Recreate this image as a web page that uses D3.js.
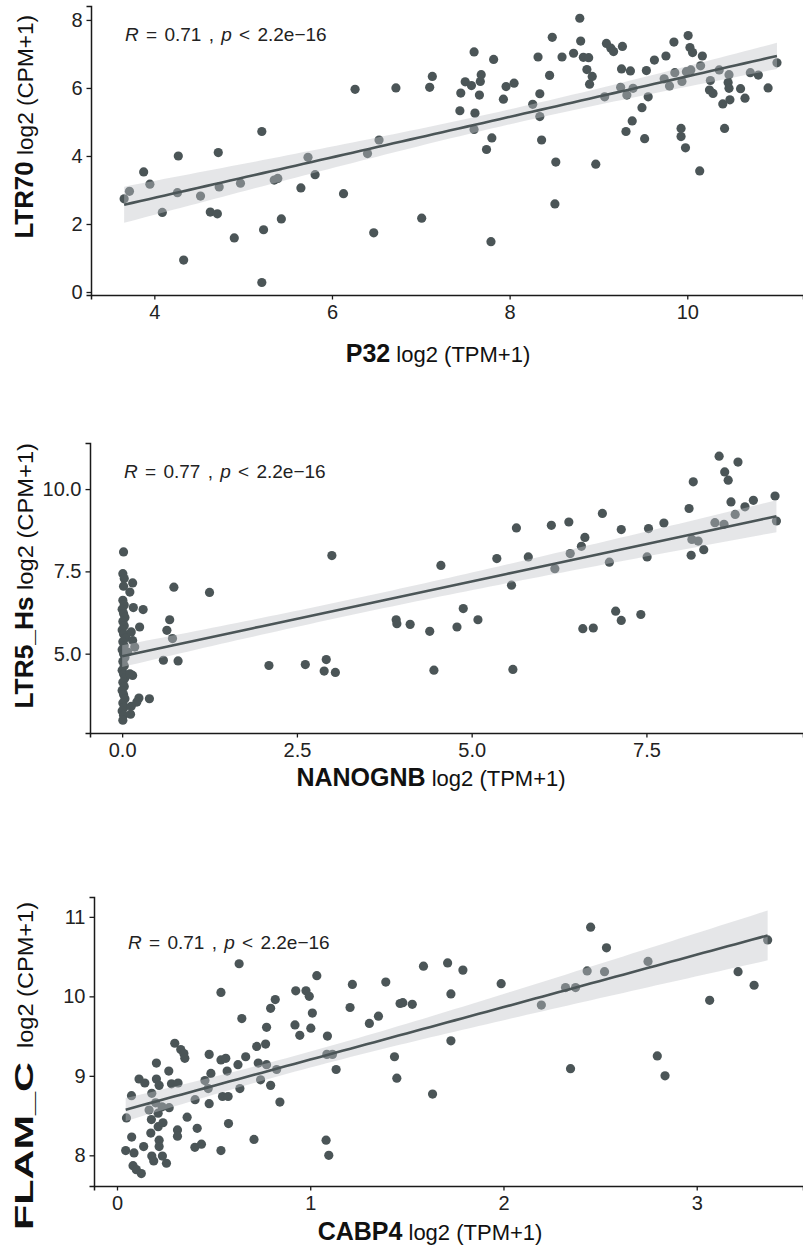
<!DOCTYPE html>
<html>
<head>
<meta charset="utf-8">
<script src="https://cdn.jsdelivr.net/npm/d3@7"></script>
<style>
  html, body { margin: 0; padding: 0; background: #fff; }
  svg { display: block; font-family: "Liberation Sans", Arial, Helvetica, sans-serif; }
</style>
</head>
<body>
<svg id="chart" width="803" height="1249"></svg>
<script>
// ---- Panel 1: P32 expression vs LTR70 expression ----
const p32Expr = [3.66,3.72,3.88,3.95,4.09,4.27,4.26,4.33,4.52,4.63,4.71,4.72,4.73,4.90,4.97,5.21,5.21,5.23,5.35,5.39,5.43,5.65,5.73,5.81,6.13,6.26,6.40,6.47,6.53,6.72,
  7.01,7.10,7.13,7.45,7.44,7.50,7.57,7.60,7.61,7.60,7.67,7.68,7.66,7.74,7.79,7.80,7.82,7.93,7.96,8.05,8.26,8.32,8.34,8.34,8.36,8.45,8.48,8.51,8.52,8.59,
  8.72,8.79,8.80,8.83,8.89,8.87,8.93,8.90,8.97,9.07,9.09,9.14,9.17,9.27,9.26,9.36,9.25,9.32,9.39,9.38,9.31,9.49,9.56,9.52,9.54,9.63,9.76,9.85,9.74,9.80,
  9.86,9.94,9.93,9.93,9.98,10.01,10.03,10.06,9.99,10.04,10.17,10.15,10.14,10.26,10.25,10.29,10.36,10.47,10.46,10.47,10.40,10.48,10.42,10.60,10.65,10.71,10.80,10.91,11.01];
const ltr70Expr = [2.74,2.96,3.53,3.17,2.34,4.00,2.92,0.94,2.82,2.35,2.30,4.10,3.09,1.59,3.20,4.72,0.28,1.83,3.29,3.34,2.15,3.06,3.96,3.45,2.89,5.96,4.07,1.74,4.47,6.00,
  2.17,6.02,6.34,5.85,5.33,6.18,6.07,7.06,5.26,4.78,6.19,6.39,5.79,4.19,1.48,4.53,6.84,5.67,6.04,6.14,5.52,6.91,5.83,5.16,4.47,6.37,7.49,2.59,3.82,6.91,
  7.02,8.05,7.38,6.90,6.89,6.54,6.34,6.11,3.76,5.74,7.31,7.17,7.07,7.22,6.56,6.50,6.02,5.79,5.99,5.03,4.72,5.42,5.74,4.51,6.51,6.82,6.94,7.35,6.27,6.06,
  6.45,6.19,4.81,4.57,4.24,7.54,7.19,7.04,6.48,6.53,6.94,6.65,3.56,6.22,5.94,5.84,6.53,6.39,6.16,5.99,5.53,5.65,4.81,5.98,5.70,6.45,6.38,6.00,6.74];

// ---- Panel 2: NANOGNB expression vs LTR5_Hs expression ----
const nanognbExpr = [0.02,0.01,0.03,0.02,0.01,0.03,0.00,0.02,0.04,0.01,0.03,0.00,0.02,0.05,0.01,0.03,0.00,0.02,0.04,0.01,0.03,0.00,0.02,0.04,0.01,0.03,0.00,0.02,0.04,0.01,0.03,0.00,0.02,0.01,
  0.15,0.11,0.16,0.30,0.25,0.13,0.15,0.18,0.15,0.11,0.24,0.39,0.21,0.12,0.13,0.08,
  0.74,1.25,0.68,0.64,0.72,0.59,0.80,2.10,2.62,2.92,2.89,3.05,3.00,3.92,3.93,4.12,4.40,4.46,4.56,4.79,4.88,5.09,5.36,5.57,5.59,5.64,5.81,6.14,6.19,6.39,
  6.41,6.57,6.62,6.59,6.74,6.87,6.97,7.06,7.14,7.14,7.42,7.53,7.51,7.75,8.11,8.17,8.14,8.15,8.24,8.32,8.48,8.61,8.54,8.62,8.67,8.81,8.71,8.77,8.91,9.03,9.34,9.36];
const ltr5Expr = [8.09,7.43,7.28,7.05,6.62,6.48,6.35,6.22,6.10,5.98,5.85,5.72,5.60,5.48,5.36,5.24,5.12,5.00,4.88,4.76,4.63,4.50,4.38,4.26,4.13,4.00,3.88,3.76,3.63,3.50,3.38,3.26,3.13,2.98,
  7.15,6.87,6.40,6.34,5.81,5.66,5.40,5.20,4.34,4.39,3.65,3.63,3.53,3.16,3.40,5.05,
  7.02,6.86,6.03,5.71,5.46,4.80,4.78,4.64,4.67,4.82,4.47,4.43,7.98,6.03,5.91,5.89,5.68,4.50,7.68,5.81,6.37,6.03,7.89,7.08,4.52,8.82,7.94,8.90,7.58,9.00,
  8.04,8.26,8.53,5.76,5.78,9.26,7.78,6.29,6.01,8.77,6.19,8.80,7.94,8.97,9.41,10.22,7.99,8.47,8.42,8.16,8.98,8.93,11.00,10.52,10.27,10.82,9.61,9.23,9.46,9.66,9.79,9.03];

// ---- Panel 3: CABP4 expression vs FLAM_C expression ----
const cabp4Expr = [0.049,0.045,0.075,0.076,0.088,0.083,0.100,0.126,0.114,0.144,0.138,0.180,0.166,0.178,0.175,0.180,0.190,0.204,0.204,0.218,0.200,0.213,0.213,0.218,0.218,0.235,0.256,0.238,0.233,0.270,
  0.268,0.282,0.316,0.299,0.330,0.346,0.351,0.313,0.313,0.363,0.404,0.415,0.403,0.437,0.477,0.455,0.486,0.472,0.477,0.538,0.538,0.563,0.546,0.575,0.570,0.577,0.538,0.632,0.646,0.626,
  0.636,0.666,0.709,0.723,0.769,0.731,0.743,0.774,0.795,0.819,0.774,0.795,0.826,0.843,0.925,0.921,0.946,0.978,0.995,1.011,1.003,1.034,1.089,1.086,1.115,1.134,1.082,1.096,1.206,1.218,
  1.306,1.353,1.391,1.436,1.448,1.465,1.479,1.528,1.586,1.728,1.711,1.790,1.728,1.633,1.988,2.196,2.321,2.373,2.347,2.433,2.451,2.523,2.533,2.748,2.796,2.836,3.067,3.214,3.297,3.367];
const flamcExpr = [8.47,8.06,8.75,8.23,8.03,7.87,7.82,7.77,8.96,8.91,8.11,8.78,8.57,8.45,8.28,7.99,7.93,9.16,8.96,8.88,8.66,8.53,8.36,8.19,8.11,7.99,7.90,8.41,8.61,8.60,
  9.06,8.90,8.91,9.41,9.33,9.28,9.22,8.32,8.24,8.48,8.70,8.34,8.10,8.14,9.27,8.94,9.03,8.84,8.65,10.05,9.20,9.22,8.74,8.74,9.06,8.40,8.06,10.41,9.72,9.14,
  8.84,9.24,8.20,9.37,9.40,9.16,8.95,9.61,9.85,9.96,9.14,8.88,9.08,8.67,10.07,9.64,9.51,10.07,10.00,9.79,9.60,10.26,9.50,9.27,9.27,9.08,8.19,8.00,9.86,10.15,
  9.66,9.75,10.18,9.24,8.97,9.91,9.92,9.90,10.38,10.03,10.42,10.33,9.44,8.77,10.16,9.89,10.11,10.11,9.09,10.32,10.87,10.31,10.61,10.44,9.25,9.00,9.95,10.31,10.14,10.71];

// tick values and correlation labels
const p1XTicks = [4, 6, 8, 10], p1YTicks = [0, 2, 4, 6, 8];
const p2XTicks = [0, 2.5, 5, 7.5], p2YTicks = [5, 7.5, 10];
const p3XTicks = [0, 1, 2, 3], p3YTicks = [8, 9, 10, 11];
const corrR = ["0.71", "0.77", "0.71"];
const corrP = "2.2e\u221216";

// yName: [baseline x, centre y of gene name, its length]; yUnit: [centre y, length]
const panels = [
  { x: p32Expr, y: ltr70Expr, xTicks: p1XTicks, yTicks: p1YTicks, fmt: d3.format("d"),
    xDom: [3.287, 11.303], yDom: [-0.088, 8.41], left: 91, right: 803, top: 6, bottom: 295,
    xGene: "P32", yGene: "LTR70", r: corrR[0],
    ann: [125, 41], xTitle: [438, 362], yName: [33, 200, 77], yUnit: [85, 140] },
  { x: nanognbExpr, y: ltr5Expr, xTicks: p2XTicks, yTicks: p2YTicks, fmt: d3.format(".1f"),
    xDom: [-0.46, 9.74], yDom: [2.59, 11.4], left: 90, right: 803, top: 443, bottom: 733,
    xGene: "NANOGNB", yGene: "LTR5_Hs", r: corrR[1],
    ann: [124, 478], xTitle: [431, 786], yName: [33, 652.5, 112], yUnit: [516.5, 147] },
  { x: cabp4Expr, y: flamcExpr, xTicks: p3XTicks, yTicks: p3YTicks, fmt: d3.format("d"),
    xDom: [-0.119, 3.55], yDom: [7.614, 11.25], left: 94, right: 803, top: 897, bottom: 1186,
    xGene: "CABP4", yGene: "FLAM_C", r: corrR[2],
    ann: [128, 949], xTitle: [430, 1240], yName: [33, 1146, 168], yUnit: [975, 146] }
];

const svg = d3.select("#chart");
const pointColor = "#4b5557";

// ordinary least squares with a 95% confidence band, as geom_smooth(method = "lm")
function linearFit(xs, ys) {
  const n = xs.length;
  const mx = d3.mean(xs), my = d3.mean(ys);
  let sxx = 0, sxy = 0;
  for (let i = 0; i < n; i++) { sxx += (xs[i] - mx) ** 2; sxy += (xs[i] - mx) * (ys[i] - my); }
  const b = sxy / sxx, a = my - b * mx;
  let sse = 0;
  for (let i = 0; i < n; i++) sse += (ys[i] - a - b * xs[i]) ** 2;
  const s = Math.sqrt(sse / (n - 2));
  const t = 1.98;
  const [lo, hi] = d3.extent(xs);
  return d3.range(81).map(k => {
    const xv = lo + (hi - lo) * k / 80;
    const fit = a + b * xv;
    const se = s * Math.sqrt(1 / n + (xv - mx) ** 2 / sxx);
    return { x: xv, y: fit, lo: fit - t * se, hi: fit + t * se };
  });
}

panels.forEach(p => {
  const g = svg.append("g");
  const xs = d3.scaleLinear().domain(p.xDom).range([p.left, p.right]);
  const ys = d3.scaleLinear().domain(p.yDom).range([p.bottom, p.top]);
  const data = p.x.map((v, i) => ({ x: v, y: p.y[i] }));

  // points
  g.append("g").selectAll("circle").data(data).join("circle")
    .attr("cx", d => xs(d.x)).attr("cy", d => ys(d.y)).attr("r", 4.6)
    .attr("fill", pointColor);

  // regression band and line
  const fit = linearFit(p.x, p.y);
  g.append("path").datum(fit)
    .attr("d", d3.area().x(d => xs(d.x)).y0(d => ys(d.lo)).y1(d => ys(d.hi)))
    .attr("fill", "#c0c3c8").attr("fill-opacity", 0.42);
  g.append("path").datum(fit)
    .attr("d", d3.line().x(d => xs(d.x)).y(d => ys(d.y)))
    .attr("fill", "none").attr("stroke", pointColor).attr("stroke-width", 2.6);

  // axes
  const xAxis = g.append("g").attr("transform", `translate(0,${p.bottom})`)
    .call(d3.axisBottom(xs).tickValues(p.xTicks).tickFormat(p.fmt).tickSizeOuter(0).tickSize(4.5).tickPadding(5));
  const yAxis = g.append("g").attr("transform", `translate(${p.left},0)`)
    .call(d3.axisLeft(ys).tickValues(p.yTicks).tickFormat(p.fmt).tickSizeOuter(0).tickSize(4.5).tickPadding(4));
  [xAxis, yAxis].forEach(ax => {
    ax.select(".domain").attr("stroke", "#1a1a1a").attr("stroke-width", 1.5);
    ax.selectAll(".tick line").attr("stroke", "#1a1a1a").attr("stroke-width", 1.3);
    ax.selectAll(".tick text").attr("fill", "#222").attr("font-size", 20)
      .attr("font-family", "'Liberation Sans', Arial, Helvetica, sans-serif");
  });

  // correlation annotation
  const ann = g.append("text").attr("x", p.ann[0]).attr("y", p.ann[1])
    .attr("font-size", 19).attr("word-spacing", 2).attr("fill", "#222");
  ann.append("tspan").attr("font-style", "italic").text("R");
  ann.append("tspan").text(` = ${p.r} , `);
  ann.append("tspan").attr("font-style", "italic").text("p");
  ann.append("tspan").text(` < ${corrP}`);

  // x-axis title
  const xt = g.append("text").attr("x", p.xTitle[0]).attr("y", p.xTitle[1])
    .attr("text-anchor", "middle").attr("fill", "#111");
  xt.append("tspan").attr("font-weight", "bold").attr("font-size", 25).text(p.xGene);
  xt.append("tspan").attr("font-size", 22).text(" log2 (TPM+1)");

  // y-axis title: bold gene name followed by the unit
  g.append("text")
    .attr("transform", `translate(${p.yName[0]},${p.yName[1]}) rotate(-90)`)
    .attr("text-anchor", "middle").attr("fill", "#111")
    .attr("font-weight", "bold").attr("font-size", 25)
    .attr("textLength", p.yName[2]).attr("lengthAdjust", "spacingAndGlyphs")
    .text(p.yGene);
  g.append("text")
    .attr("transform", `translate(${p.yName[0]},${p.yUnit[0]}) rotate(-90)`)
    .attr("text-anchor", "middle").attr("fill", "#111").attr("font-size", 22)
    .attr("textLength", p.yUnit[1]).attr("lengthAdjust", "spacingAndGlyphs")
    .text("log2 (CPM+1)");
});
</script>
</body>
</html>
